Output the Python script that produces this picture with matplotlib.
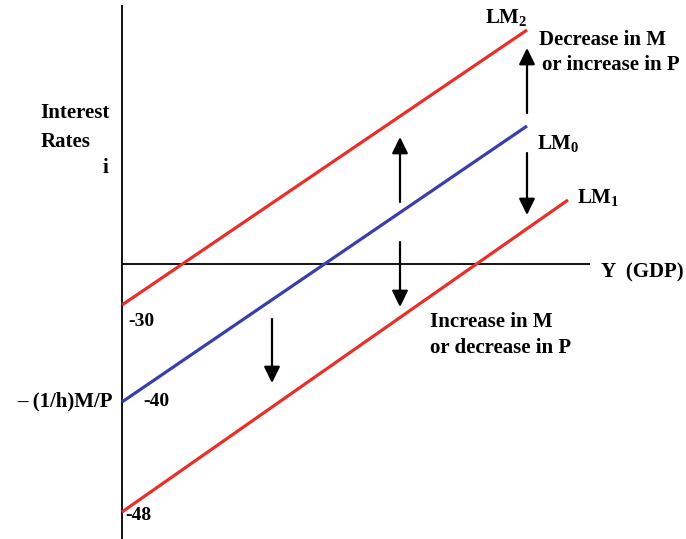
import matplotlib
matplotlib.use("Agg")
import matplotlib.pyplot as plt

plt.rcParams['font.family'] = ['Liberation Serif', 'DejaVu Serif']
plt.rcParams['font.weight'] = 'bold'
plt.rcParams['mathtext.fontset'] = 'custom'
plt.rcParams['mathtext.rm'] = 'Liberation Serif:bold'
plt.rcParams['mathtext.it'] = 'Liberation Serif:bold'
plt.rcParams['mathtext.bf'] = 'Liberation Serif:bold'
plt.rcParams['mathtext.default'] = 'rm'

# ---- data (drawing units: Y to the right of the i-axis, i above the Y-axis) ----
curve_names = ['LM$_2$', 'LM$_0$', 'LM$_1$']
intercepts = [-41, -138, -248]          # i at Y = 0
end_Y = [405, 405, 446]                 # Y at right end
end_i = [234, 138, 64]                  # i at right end
intercept_labels = ['-30', '-40', '-48']
curve_colors = ['#e8302a', '#3a3fa8', '#e8302a']

# shift arrows: (Y, i_start, i_end)
arrow_Y = [278, 278, 150, 405, 405]
arrow_start = [62, 22, -55, 151, 111]
arrow_end = [127, -43, -119, 216, 49]

FS = 15
fig = plt.figure(figsize=(6.86, 5.39), dpi=100)
ax = fig.add_axes([0, 0, 1, 1])
ax.set_xlim(-122, 564)
ax.set_ylim(-275, 264)
ax.axis('off')

# axes
ax.plot([0, 0], [259, -275], color='black', lw=1.3, solid_capstyle='butt')
ax.plot([0, 468], [0, 0], color='black', lw=1.3, solid_capstyle='butt')

for b, x1, y1, c in zip(intercepts, end_Y, end_i, curve_colors):
    ax.plot([0, x1], [b, y1], color=c, lw=2.3, solid_capstyle='butt')

for x, y0, y1 in zip(arrow_Y, arrow_start, arrow_end):
    ax.annotate('', xy=(x, y1), xytext=(x, y0),
                arrowprops=dict(arrowstyle='-|>,head_length=0.55,head_width=0.27',
                                color='black', lw=1.6, mutation_scale=18,
                                shrinkA=0, shrinkB=0))

# curve labels
ax.text(363, 246, curve_names[0], fontsize=FS, ha='left', va='center')
ax.text(415, 120, curve_names[1], fontsize=FS, ha='left', va='center')
ax.text(455, 66, curve_names[2], fontsize=FS, ha='left', va='center')

# intercept labels
ax.text(6, -58, intercept_labels[0], fontsize=FS - 1, ha='left', va='center')
ax.text(21, -137, intercept_labels[1], fontsize=FS - 1, ha='left', va='center')
ax.text(3, -251, intercept_labels[2], fontsize=FS - 1, ha='left', va='center')
ax.text(-9, -137, '– (1/h)M/P', fontsize=FS, ha='right', va='center')

# axis labels
ax.text(-47, 151, 'Interest', fontsize=FS, ha='center', va='center')
ax.text(-56, 122, 'Rates', fontsize=FS, ha='center', va='center')
ax.text(-17, 96, 'i', fontsize=FS, ha='center', va='center')
ax.text(479, -8, 'Y  (GDP)', fontsize=FS, ha='left', va='center')

# shift explanations
ax.text(417, 224, 'Decrease in M', fontsize=FS, ha='left', va='center')
ax.text(420, 199, 'or increase in P', fontsize=FS, ha='left', va='center')
ax.text(308, -58, 'Increase in M', fontsize=FS, ha='left', va='center')
ax.text(308, -84, 'or decrease in P', fontsize=FS, ha='left', va='center')

fig.savefig('out.png', dpi=100)
